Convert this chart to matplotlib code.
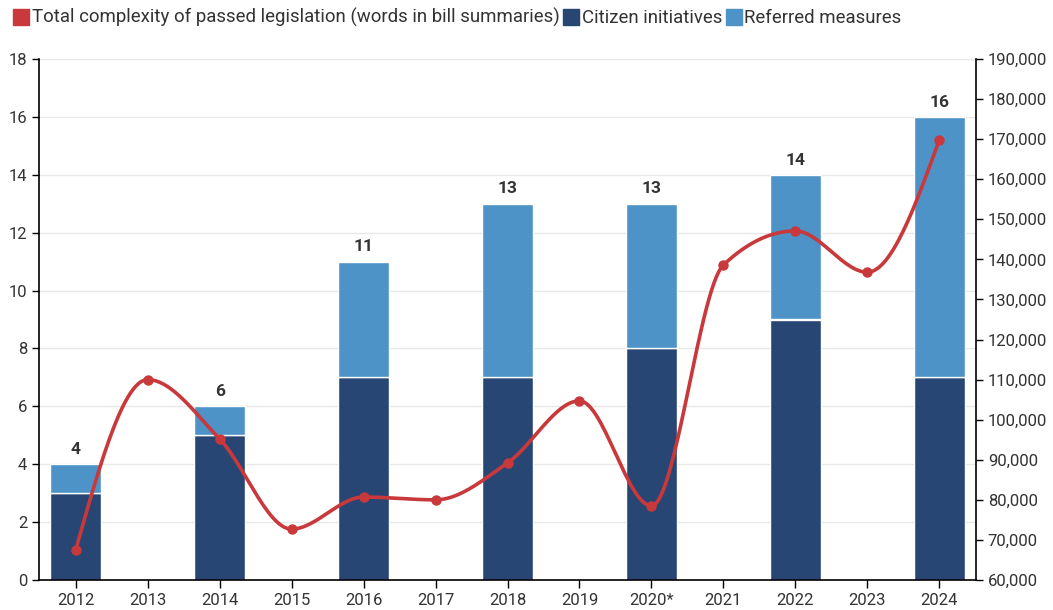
import numpy as np
import matplotlib
matplotlib.use("Agg")
import matplotlib.pyplot as plt
from matplotlib.lines import Line2D
from matplotlib.ticker import FuncFormatter, MultipleLocator

plt.rcParams['font.family'] = ['Roboto', 'DejaVu Sans']

years = ["2012", "2013", "2014", "2015", "2016", "2017", "2018", "2019",
         "2020*", "2021", "2022", "2023", "2024"]
citizen = [3, 0, 5, 0, 7, 0, 7, 0, 8, 0, 9, 0, 7]
referred = [1, 0, 1, 0, 4, 0, 6, 0, 5, 0, 5, 0, 9]
complexity = [67500, 110000, 95200, 72700, 80700, 80000, 89200, 104700,
              78500, 138600, 147100, 136800, 169800]

c_cit = "#284673"
c_ref = "#4d93c7"
c_line = "#c9383b"
txt = "#333333"


def monotone_curve(x, y, n=30):
    x = np.asarray(x, float)
    y = np.asarray(y, float)
    h = np.diff(x)
    d = np.diff(y) / h
    m = np.zeros_like(y)
    for i in range(1, len(y) - 1):
        if d[i - 1] * d[i] <= 0:
            m[i] = 0.0
        else:
            p = (d[i - 1] * h[i] + d[i] * h[i - 1]) / (h[i - 1] + h[i])
            m[i] = (np.sign(d[i - 1]) + np.sign(d[i])) * min(abs(d[i - 1]), abs(d[i]), 0.5 * abs(p))
    m[0] = (3 * d[0] - m[1]) / 2 if len(y) > 2 else d[0]
    m[-1] = (3 * d[-1] - m[-2]) / 2 if len(y) > 2 else d[-1]
    xs, ys = [], []
    for i in range(len(x) - 1):
        t = np.linspace(0, 1, n, endpoint=False)
        h00 = 2 * t**3 - 3 * t**2 + 1
        h10 = t**3 - 2 * t**2 + t
        h01 = -2 * t**3 + 3 * t**2
        h11 = t**3 - t**2
        xs.append(x[i] + t * h[i])
        ys.append(h00 * y[i] + h10 * h[i] * m[i] + h01 * y[i + 1] + h11 * h[i] * m[i + 1])
    xs.append([x[-1]])
    ys.append([y[-1]])
    return np.concatenate(xs), np.concatenate(ys)


fig = plt.figure(figsize=(10.53, 6.10), dpi=100)
ax = fig.add_axes([39 / 1053, 1 - 580 / 610, (976 - 39) / 1053, (580 - 59) / 610])
ax2 = ax.twinx()

x = np.arange(len(years))
w = 0.71
cit = np.array(citizen)
ref = np.array(referred)
mask = (cit + ref) > 0
ax.bar(x[mask], cit[mask], width=w, color=c_cit, edgecolor="white", linewidth=1.0, zorder=2)
ax.bar(x[mask], ref[mask], bottom=cit[mask], width=w, color=c_ref, edgecolor="white",
       linewidth=1.0, zorder=2)
for xi, tot in zip(x[mask], (cit + ref)[mask]):
    ax.text(xi, tot + 0.25, f"{tot}", ha="center", va="bottom", fontsize=12.5,
            fontweight="bold", color=txt)

ax.set_xlim(-0.51, 12.51)
ax.set_ylim(0, 18)
ax.yaxis.set_major_locator(MultipleLocator(2))
ax.set_xticks(x)
ax.set_xticklabels(years)
ax.grid(axis="y", color="#e8e8e8", linewidth=1.0, zorder=0)
ax.set_axisbelow(True)

ax2.set_ylim(60000, 190000)
ax2.yaxis.set_major_locator(MultipleLocator(10000))
ax2.yaxis.set_major_formatter(FuncFormatter(lambda v, p: f"{int(v):,}"))
cx, cy = monotone_curve(x, complexity)
ax2.plot(cx, cy, color=c_line, linewidth=2.6, zorder=3, solid_capstyle="round")
ax2.plot(x, complexity, "o", color=c_line, markersize=6.5, zorder=4)

for a in (ax, ax2):
    a.spines["top"].set_visible(False)
    for s in ("left", "right", "bottom"):
        a.spines[s].set_color("black")
        a.spines[s].set_linewidth(1.2)
    a.tick_params(labelsize=12, colors=txt, length=5, width=1.0)
    a.tick_params(axis="both", color="black")
ax.spines["right"].set_visible(False)
ax2.spines["left"].set_visible(False)
ax2.spines["bottom"].set_visible(False)
ax.tick_params(axis="x", length=6)

handles = [
    Line2D([], [], marker="s", linestyle="none", markersize=12, color=c_line),
    Line2D([], [], marker="s", linestyle="none", markersize=12, color=c_cit),
    Line2D([], [], marker="s", linestyle="none", markersize=12, color=c_ref),
]
labels = ["Total complexity of passed legislation (words in bill summaries)",
          "Citizen initiatives", "Referred measures"]
leg = fig.legend(handles, labels, loc="upper left", bbox_to_anchor=(0.0, 1.008), ncol=3,
                 frameon=False, fontsize=13.4, handletextpad=0.1, columnspacing=0.2,
                 handlelength=0.9, borderaxespad=0.3)
for t in leg.get_texts():
    t.set_color(txt)

fig.savefig("out.png", dpi=100)
